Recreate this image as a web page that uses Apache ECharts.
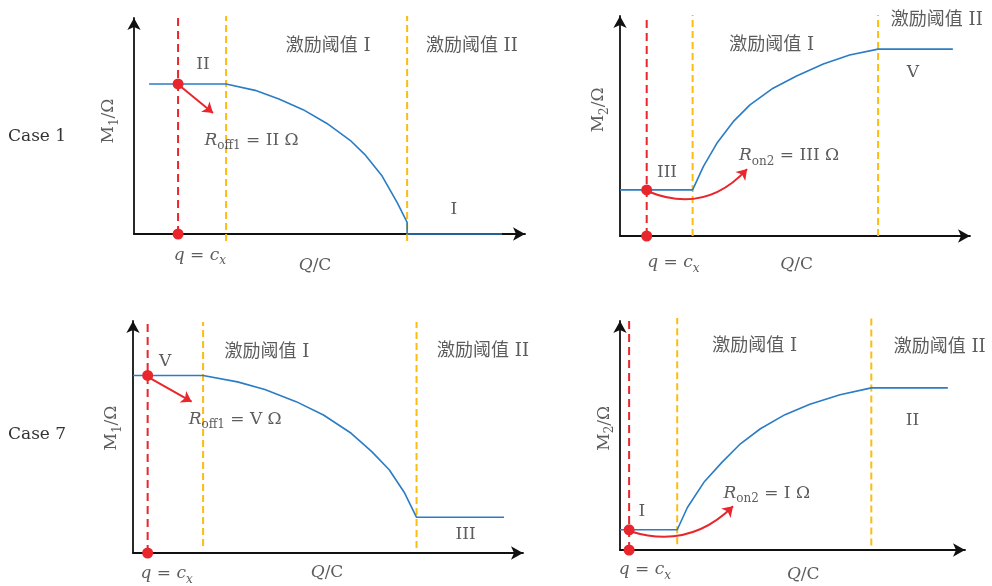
<!DOCTYPE html>
<html>
<head>
<meta charset="utf-8">
<script src="https://cdn.jsdelivr.net/npm/echarts@6/dist/echarts.min.js"></script>
<style>
  html, body { margin: 0; padding: 0; background: #fff; }
  #chart { width: 992px; height: 586px; }
</style>
</head>
<body>
<div id="chart"></div>
<script>
// schematic units: Q and M both run 0..100 along each axis

// Case 1, M1 curve
const case1M1Q = [3.8, 23.2, 30.5, 36.5, 42.6, 48.6, 54.7, 58.1, 62.5, 66.3, 68.8, 68.8, 92.7]
const case1M1V = [67.6, 67.6, 64.7, 60.8, 56.0, 49.8, 41.8, 35.9, 26.1, 14.1, 5.2, 0, 0]
// Case 1, M2 curve
const case1M2Q = [0, 20.4, 23.4, 27.2, 31.8, 36.5, 43.0, 49.6, 57.1, 64.5, 72.5, 93.5]
const case1M2V = [20.4, 20.4, 30.7, 41.0, 50.6, 58.0, 65.4, 70.8, 76.1, 80.1, 82.7, 82.7]
// Case 7, M1 curve
const case7M1Q = [0, 17.7, 26.4, 33.3, 41.2, 48.1, 55.1, 60.3, 64.7, 68.6, 71.6, 93.7]
const case7M1V = [74.6, 74.6, 71.9, 68.7, 63.6, 58.0, 50.3, 42.6, 35.0, 25.2, 15.0, 15.0]
// Case 7, M2 curve
const case7M2Q = [0, 16.3, 19.2, 23.9, 29.1, 34.3, 40.0, 47.0, 54.1, 62.7, 71.6, 93.4]
const case7M2V = [8.6, 8.6, 18.1, 28.8, 37.4, 45.2, 51.6, 57.6, 62.0, 66.1, 69.0, 69.0]

// q = c_x position and the level of M at that point
const cxQ = [11.1, 7.5, 3.7, 2.6]
const cxM = [67.6, 20.4, 74.6, 8.6]
// 激励阈值 I / II positions
const thresholdI = [23.2, 20.4, 17.7, 16.3]
const thresholdII = [68.8, 72.5, 71.6, 71.6]
// red arrow start / end
const arrowFrom = [[11.6, 66.7], [7.6, 19.9], [4.3, 73.5], [3.1, 7.9]]
const arrowTo = [[19.9, 54.5], [35.7, 29.6], [14.8, 63.6], [32.2, 18.6]]

const caseLabels = ['Case 1', 'Case 7']
const regionNames = ['激励阈值 I', '激励阈值 II']
const resistLabels = [
  '{i|R}{s|off1}{r| = II Ω}',
  '{i|R}{s|on2}{r| = III Ω}',
  '{i|R}{s|off1}{r| = V Ω}',
  '{i|R}{s|on2}{r| = I Ω}',
]
const levelNames = [['II', 'I'], ['III', 'V'], ['V', 'III'], ['I', 'II']]
const yNames = ['{r|M}{s|1}{r|/Ω}', '{r|M}{s|2}{r|/Ω}', '{r|M}{s|1}{r|/Ω}', '{r|M}{s|2}{r|/Ω}']

const SERIF = "'DejaVu Serif', 'Liberation Serif', serif"
const MIXED = "'DejaVu Serif', 'Noto Sans CJK SC', serif"
const INK = '#333'
const BLUE = '#2a7cc4'
const RED = '#e8262b'
const GOLD = '#fbbd12'

const rich = {
  r: { fontFamily: SERIF, fontSize: 17, color: INK, lineHeight: 24 },
  i: { fontFamily: SERIF, fontStyle: 'italic', fontSize: 17, color: INK, lineHeight: 24 },
  s: { fontFamily: SERIF, fontSize: 12, color: INK, lineHeight: 14, verticalAlign: 'bottom' },
  si: { fontFamily: SERIF, fontStyle: 'italic', fontSize: 12, color: INK, lineHeight: 14, verticalAlign: 'bottom' },
  c: { fontFamily: MIXED, fontSize: 18, color: INK, lineHeight: 24 },
}

// panel layout (pixels): grid box, where axis arrows end
const panels = [
  { left: 134, top: 12, width: 397, height: 222, dashTop: 98.2, goldTop: 98.2, goldBottom: [-3.2, -3.2], bend: 0 },
  { left: 620, top: 10, width: 356, height: 226, dashTop: 97.8, goldTop: 97.8, goldBottom: [0, 0], bend: -0.35 },
  { left: 133, top: 315, width: 396, height: 238, dashTop: 96.6, goldTop: 97.1, goldBottom: [2.9, 2.1], bend: 0 },
  { left: 620, top: 315, width: 351, height: 235, dashTop: 97.9, goldTop: 98.7, goldBottom: [2.5, 1.9], bend: -0.3 },
]

// annotation anchor points (data coords) per panel
const notePos = [
  { lvA: [17.4, 76.1], lvB: [80.6, 10.8], rI: [48.9, 84.7], rII: [85.1, 84.7], res: [29.6, 42.3], q: [16.6, -9.5], qc: [45.6, -14.0], yn: [-6.3, 50.9] },
  { lvA: [13.2, 27.9], lvB: [82.3, 72.1], rI: [42.6, 84.5], rII: [89.0, 95.6], res: [47.5, 35.4], q: [15.0, -11.9], qc: [49.6, -12.8], yn: [-6.0, 55.8] },
  { lvA: [8.1, 80.4], lvB: [84.0, 7.6], rI: [33.8, 84.5], rII: [88.4, 84.9], res: [25.8, 56.2], q: [8.5, -8.7], qc: [49.0, -8.3], yn: [-5.4, 52.5] },
  { lvA: [6.2, 16.5], lvB: [83.3, 54.9], rI: [38.4, 86.5], rII: [91.1, 86.4], res: [41.8, 24.1], q: [7.1, -8.4], qc: [52.2, -10.3], yn: [-4.5, 51.8] },
]

const curves = [
  [case1M1Q, case1M1V],
  [case1M2Q, case1M2V],
  [case7M1Q, case7M1V],
  [case7M2Q, case7M2V],
]

const ARROW = 6 // half of arrow head length
const grid = []
const xAxis = []
const yAxis = []
const series = []

const axisLine = {
  show: true,
  symbol: ['none', 'arrow'],
  symbolSize: [10, 12],
  lineStyle: { color: '#111', width: 1.8 },
}

panels.forEach((p, k) => {
  grid.push({ left: p.left, top: p.top + ARROW, width: p.width - ARROW, height: p.height - ARROW })
  xAxis.push({
    gridIndex: k, type: 'value', min: 0, max: 100 * (p.width - ARROW) / p.width,
    axisLine, axisTick: { show: false }, axisLabel: { show: false }, splitLine: { show: false },
  })
  yAxis.push({
    gridIndex: k, type: 'value', min: 0, max: 100 * (p.height - ARROW) / p.height,
    axisLine, axisTick: { show: false }, axisLabel: { show: false }, splitLine: { show: false },
  })

  const base = { xAxisIndex: k, yAxisIndex: k, silent: true, animation: false }

  // threshold lines
  ;[thresholdI[k], thresholdII[k]].forEach((q, j) => {
    series.push(Object.assign({}, base, {
      type: 'line', showSymbol: false, z: 3, clip: false,
      data: [[q, p.goldBottom[j]], [q, p.goldTop]],
      lineStyle: { color: GOLD, width: 2, type: [7, 4] },
    }))
  })

  // M curve
  series.push(Object.assign({}, base, {
    type: 'line', showSymbol: false, z: 4, clip: false,
    data: curves[k][0].map((q, i) => [q, curves[k][1][i]]),
    lineStyle: { color: BLUE, width: 1.6 },
  }))

  // q = c_x line
  series.push(Object.assign({}, base, {
    type: 'line', showSymbol: false, z: 5, clip: false,
    data: [[cxQ[k], 0], [cxQ[k], p.dashTop]],
    lineStyle: { color: RED, width: 2, type: [8, 5] },
  }))

  // red arrow (curved in the M2 panels)
  series.push(Object.assign({}, base, {
    type: 'lines', coordinateSystem: 'cartesian2d', z: 6,
    symbol: ['none', 'arrow'], symbolSize: 10,
    lineStyle: { color: RED, width: 2, opacity: 1, curveness: p.bend },
    data: [{ coords: [arrowFrom[k], arrowTo[k]] }],
  }))

  series.push(Object.assign({}, base, {
    type: 'scatter', symbolSize: 11, z: 7, clip: false,
    itemStyle: { color: RED, opacity: 1 },
    data: [[cxQ[k], cxM[k]], [cxQ[k], 0]],
  }))

  // text notes
  const n = notePos[k]
  const notes = [
    [n.lvA, '{r|' + levelNames[k][0] + '}', 0],
    [n.lvB, '{r|' + levelNames[k][1] + '}', 0],
    [n.rI, '{c|' + regionNames[0] + '}', 0],
    [n.rII, '{c|' + regionNames[1] + '}', 0],
    [n.res, resistLabels[k], 0],
    [n.q, '{i|q}{r| = }{i|c}{si|x}', 0],
    [n.qc, '{i|Q}{r|/C}', 0],
    [n.yn, yNames[k], 90],
  ]
  series.push(Object.assign({}, base, {
    type: 'scatter', symbolSize: 0, z: 8, clip: false,
    data: notes.map(([pos, text, rot]) => ({
      value: pos,
      label: { show: true, position: 'inside', formatter: text, rotate: rot, rich },
    })),
  }))
})

const chart = echarts.init(document.getElementById('chart'), null, { renderer: 'canvas' })
chart.setOption({
  backgroundColor: '#fff',
  animation: false,
  grid, xAxis, yAxis, series,
  graphic: [
    { type: 'text', left: 8, top: 128, style: { text: caseLabels[0], font: '17px ' + SERIF, fill: INK } },
    { type: 'text', left: 8, top: 426, style: { text: caseLabels[1], font: '17px ' + SERIF, fill: INK } },
  ],
})
</script>
</body>
</html>
